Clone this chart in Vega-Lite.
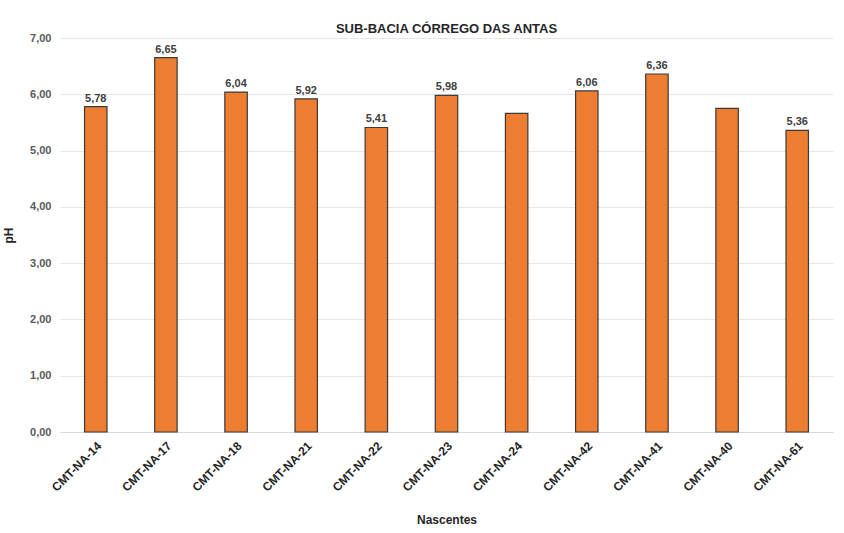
{
  "$schema": "https://vega.github.io/schema/vega-lite/v6.json",
  "autosize": "none",
  "width": 773,
  "height": 394,
  "padding": {"left": 60, "top": 38, "right": 11, "bottom": 101},
  "background": "white",
  "config": {
    "locale": {"number": {"decimal": ",", "thousands": ".", "grouping": [3], "currency": ["R$", ""]}},
    "view": {"stroke": null},
    "font": "Liberation Sans"
  },
  "title": {
    "text": "SUB-BACIA CÓRREGO DAS ANTAS",
    "font": "Liberation Sans",
    "fontSize": 13,
    "fontWeight": "bold",
    "color": "#262626",
    "anchor": "middle",
    "offset": -4
  },
  "data": {
    "values": [
      {"nascente": "CMT-NA-14", "ph": 5.78, "label": "5,78"},
      {"nascente": "CMT-NA-17", "ph": 6.65, "label": "6,65"},
      {"nascente": "CMT-NA-18", "ph": 6.04, "label": "6,04"},
      {"nascente": "CMT-NA-21", "ph": 5.92, "label": "5,92"},
      {"nascente": "CMT-NA-22", "ph": 5.41, "label": "5,41"},
      {"nascente": "CMT-NA-23", "ph": 5.98, "label": "5,98"},
      {"nascente": "CMT-NA-24", "ph": 5.66, "label": ""},
      {"nascente": "CMT-NA-42", "ph": 6.06, "label": "6,06"},
      {"nascente": "CMT-NA-41", "ph": 6.36, "label": "6,36"},
      {"nascente": "CMT-NA-40", "ph": 5.75, "label": ""},
      {"nascente": "CMT-NA-61", "ph": 5.36, "label": "5,36"}
    ]
  },
  "encoding": {
    "x": {
      "field": "nascente",
      "type": "nominal",
      "sort": null,
      "scale": {"paddingInner": 0.68, "paddingOuter": 0.35},
      "axis": {
        "title": "Nascentes",
        "titleFont": "Liberation Sans",
        "titleFontSize": 12,
        "titleFontWeight": "bold",
        "titleColor": "#262626",
        "titlePadding": 21,
        "labelAngle": -45,
        "labelFont": "Liberation Sans",
        "labelFontSize": 12,
        "labelFontWeight": "bold",
        "labelColor": "#262626",
        "labelPadding": 8,
        "labelOverlap": false,
        "ticks": false,
        "domain": true,
        "domainColor": "#d9d9d9",
        "grid": false
      }
    },
    "y": {
      "field": "ph",
      "type": "quantitative",
      "scale": {"domain": [0, 7], "nice": false},
      "axis": {
        "title": "pH",
        "titleFont": "Liberation Sans",
        "titleFontSize": 12,
        "titleFontWeight": "bold",
        "titleColor": "#262626",
        "titlePadding": 14,
        "values": [0, 1, 2, 3, 4, 5, 6, 7],
        "format": ".2f",
        "labelFont": "Liberation Sans",
        "labelFontSize": 11,
        "labelFontWeight": "bold",
        "labelColor": "#595959",
        "labelPadding": 9,
        "ticks": false,
        "domain": false,
        "grid": true,
        "gridColor": "#e6e6e6"
      }
    }
  },
  "layer": [
    {
      "mark": {"type": "bar", "color": "#ED7D31", "stroke": "#3a3a3a", "strokeWidth": 1.2}
    },
    {
      "mark": {"type": "text", "dy": -8, "font": "Liberation Sans", "fontSize": 11, "fontWeight": "bold", "color": "#404040"},
      "encoding": {"text": {"field": "label"}}
    }
  ]
}
